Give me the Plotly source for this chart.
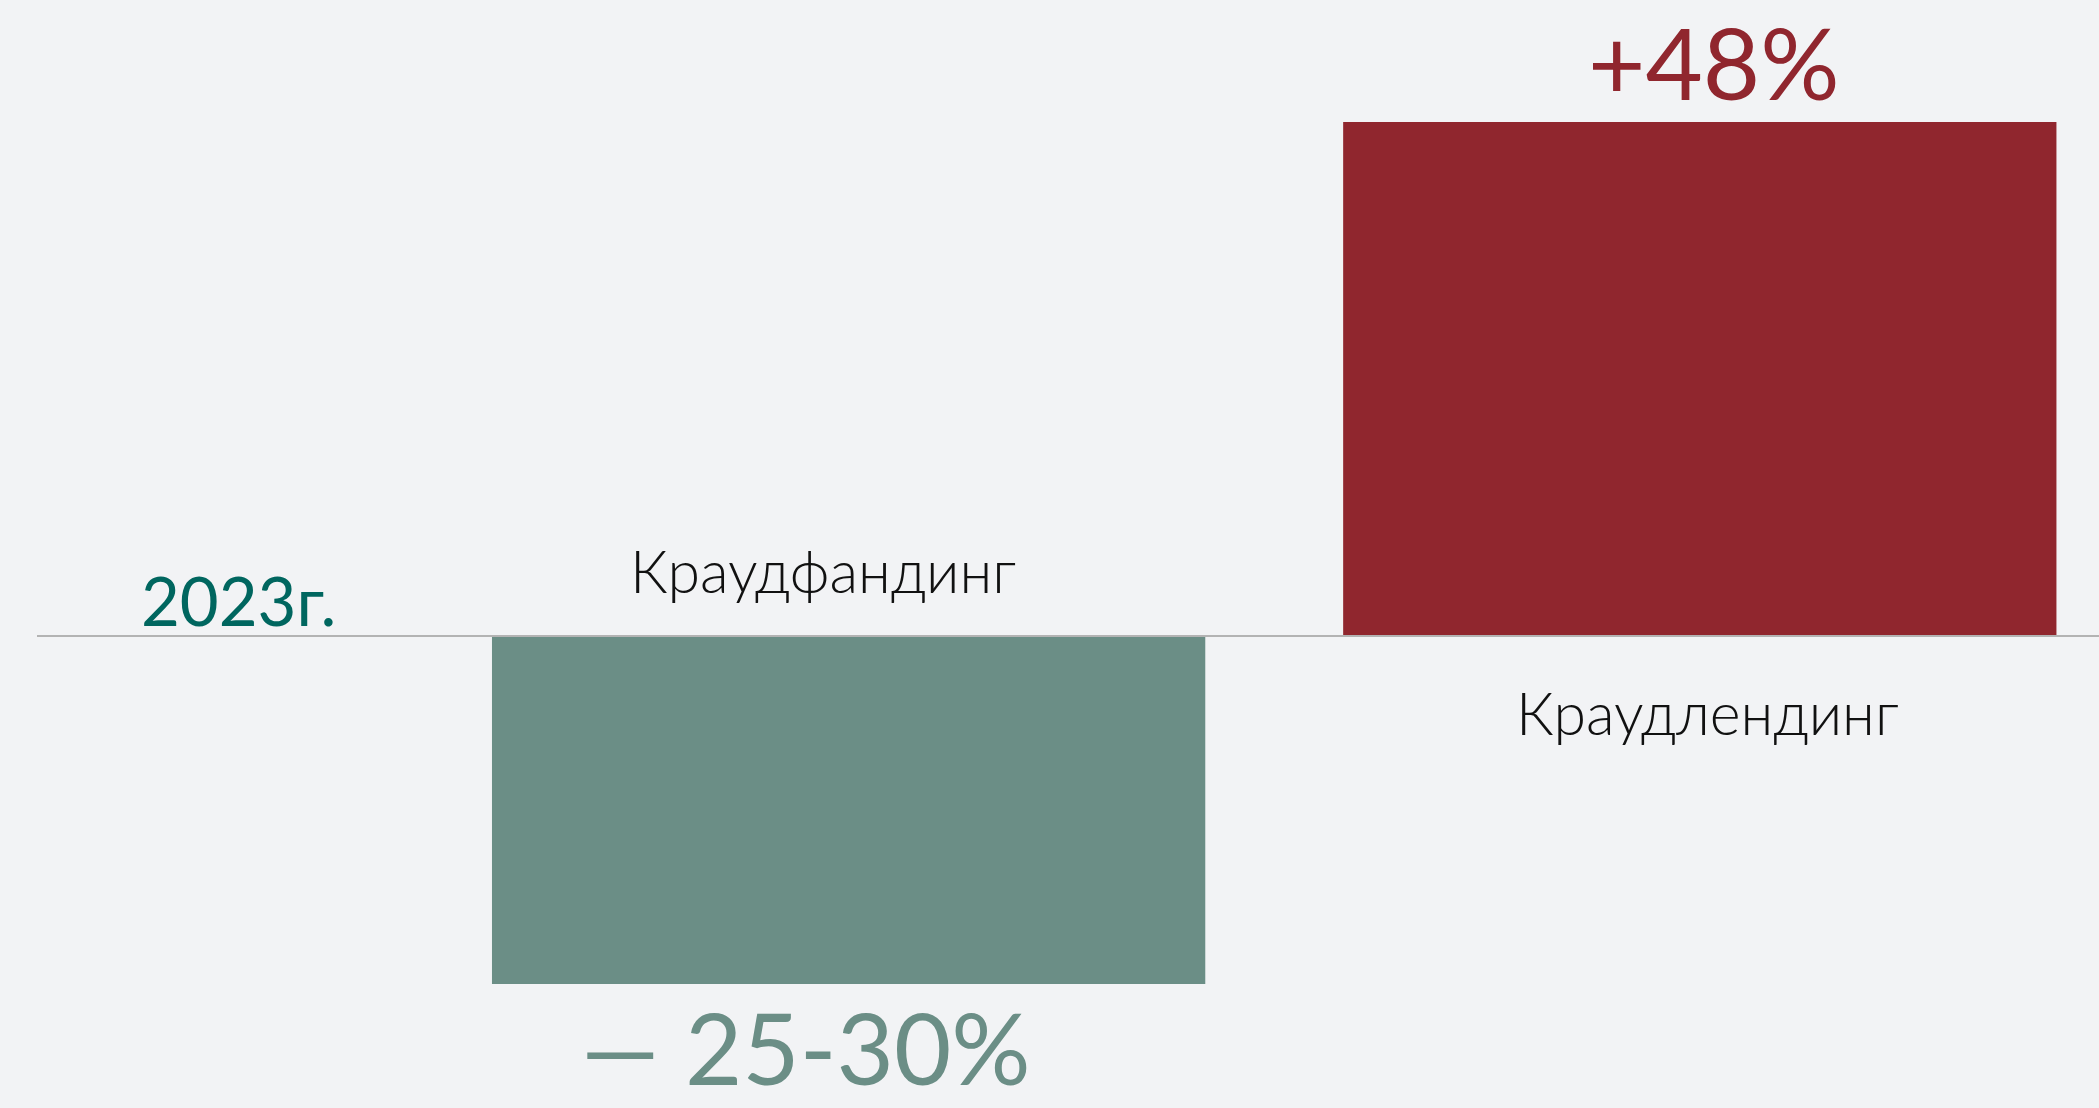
import plotly.graph_objects as go

categories = ["Краудфандинг", "Краудлендинг"]
values = [-32.5, 48]
value_labels = ["— 25-30%", "+48%"]
year_label = "2023г."

bar_colors = ["#6b8e86", "#90262e"]
BG = "#f2f3f5"
FONT = "Lato"

fig = go.Figure()
fig.add_trace(go.Bar(
    x=categories, y=values, width=0.838,
    marker=dict(color=bar_colors, line=dict(width=0)),
    hoverinfo="skip",
))

W, H = 2099, 1108

fig.update_layout(
    width=W, height=H,
    margin=dict(l=0, r=0, t=0, b=0),
    paper_bgcolor=BG, plot_bgcolor=BG,
    showlegend=False,
    xaxis=dict(range=[-0.997, 1.469], visible=False, fixedrange=True),
    yaxis=dict(range=[-44.08, 59.4], visible=False, fixedrange=True, zeroline=False),
)

# baseline
fig.add_shape(type="line", xref="paper", yref="y", x0=37 / W, x1=1, y0=0, y1=0,
              line=dict(color="#b3b3b3", width=2), layer="above")

def ann(text, xpx, ypx, size, color, weight=400, yanchor="middle"):
    fig.add_annotation(
        text=text, xref="paper", yref="paper",
        x=xpx / W, y=1 - ypx / H, xanchor="center", yanchor=yanchor,
        showarrow=False,
        font=dict(family=FONT, size=size, color=color, weight=weight),
    )

ann(value_labels[1], 1714, 0, 99, bar_colors[1], yanchor="top")
ann(value_labels[0], 806, H, 99, bar_colors[0], yanchor="bottom")
ann(year_label, 238, 600, 67, "#00665f")
ann(categories[0], 823, 570, 59, "#111111", 300)
ann(categories[1], 1707, 712, 59, "#111111", 300)

fig.write_html("out.html", config={"displayModeBar": False},
               post_script="document.body.style.margin='0px';document.body.style.overflow='hidden';")
